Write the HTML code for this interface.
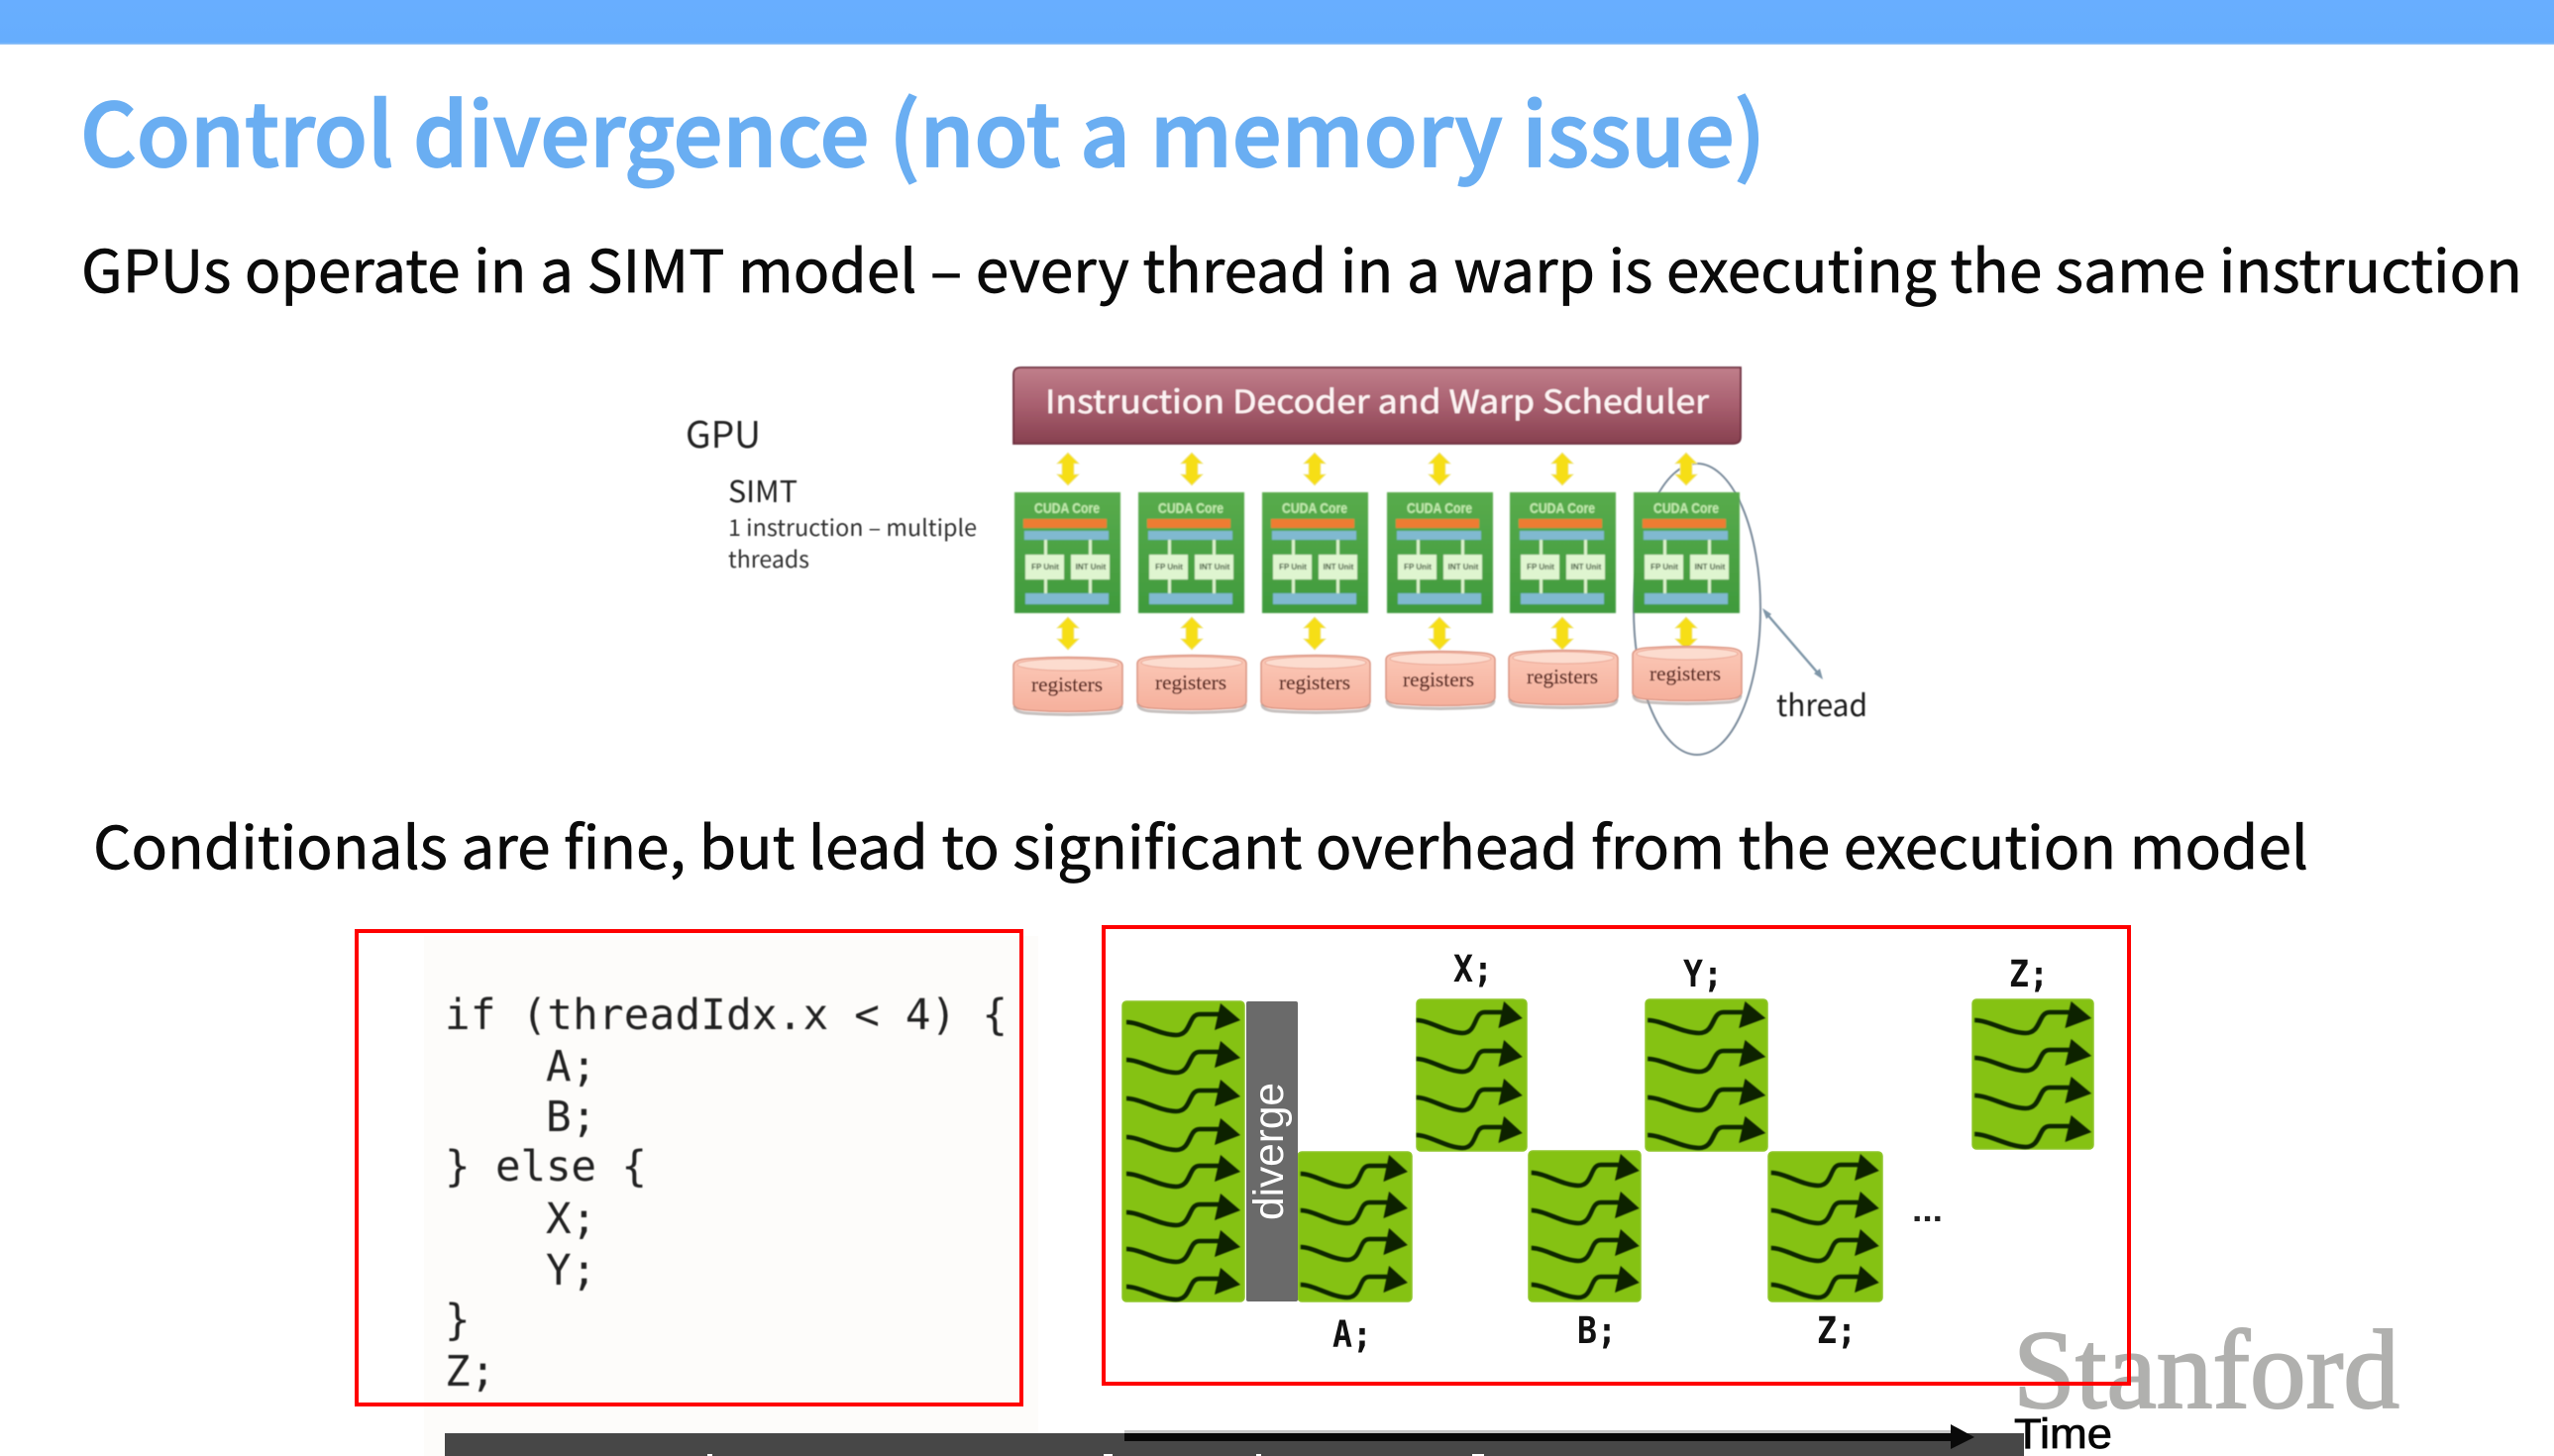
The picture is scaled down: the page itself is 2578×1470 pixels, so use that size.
<!DOCTYPE html>
<html><head><meta charset="utf-8"><style>
html,body{margin:0;padding:0;background:#fff;width:2578px;height:1470px;overflow:hidden}
svg{display:block}
.n{font-family:"Noto Sans CJK JP","Liberation Sans",sans-serif}
.m{font-family:"DejaVu Sans Mono","Liberation Mono",monospace}
.s{font-family:"Liberation Sans",sans-serif}
.r{font-family:"Liberation Serif",serif}
.cu{font-family:"Liberation Sans",sans-serif;font-size:15px;font-weight:bold;fill:#c9efb4;text-anchor:middle}
.t1{font-family:"Liberation Sans",sans-serif;font-size:8px;font-weight:bold;text-anchor:middle}
.reg{font-family:"Liberation Serif",serif;font-size:21px;fill:#5e2c24;stroke:#5e2c24;stroke-width:.3;text-anchor:middle}
</style></head><body>
<svg xmlns="http://www.w3.org/2000/svg" width="2578" height="1470" viewBox="0 0 2578 1470">
<defs>
<linearGradient id="hd" x1="0" y1="0" x2="0" y2="1"><stop offset="0" stop-color="#c07f8b"/><stop offset=".5" stop-color="#a85f6f"/><stop offset="1" stop-color="#87404f"/></linearGradient>
<linearGradient id="cg" x1="0" y1="0" x2="0" y2="1"><stop offset="0" stop-color="#58ab4c"/><stop offset="1" stop-color="#3f9a3c"/></linearGradient>
<linearGradient id="rg" x1="0" y1="0" x2="0" y2="1"><stop offset="0" stop-color="#fbc9b8"/><stop offset="1" stop-color="#f6b09c"/></linearGradient>
<linearGradient id="bar" x1="0" y1="0" x2="0" y2="1"><stop offset="0" stop-color="#68aeff"/><stop offset=".95" stop-color="#66adfd"/><stop offset="1" stop-color="#9cc7f5"/></linearGradient>
<filter id="b1" x="-5%" y="-5%" width="110%" height="110%"><feGaussianBlur stdDeviation="0.9"/></filter>
<filter id="b2" x="-5%" y="-5%" width="110%" height="110%"><feGaussianBlur stdDeviation="0.6"/></filter>
<g id="ya"><polygon points="0,0 11,11 6,11 6,22 11,22 0,33 -11,22 -6,22 -6,11 -11,11" fill="#f6de12" stroke="#f0e890" stroke-width=".8"/></g>
<g id="core">
<rect x="0" y="0" width="107" height="122" fill="url(#cg)"/>
<rect x="9" y="27" width="84" height="9" fill="#ee7c32"/>
<rect x="10" y="39" width="85" height="9" fill="#80b9d0"/>
<rect x="30" y="48" width="3" height="15" fill="#dcf3cc"/>
<rect x="75" y="48" width="3" height="15" fill="#dcf3cc"/>
<rect x="30" y="88" width="3" height="14" fill="#dcf3cc"/>
<rect x="75" y="88" width="3" height="14" fill="#dcf3cc"/>
<rect x="11" y="63" width="39" height="25" fill="#dff5d0"/>
<rect x="57" y="63" width="39" height="25" fill="#dff5d0"/>
<rect x="11" y="102" width="84" height="11" fill="#80b9d0"/>
</g>
<g id="cyl">
<path d="M0 8Q0 2 14 1Q55 -2 96 1Q110 2 110 8V46Q110 52 96 53Q55 56 14 53Q0 52 0 46Z" fill="url(#rg)" stroke="#dd9a88" stroke-width="1.6"/>
<ellipse cx="55" cy="7" rx="51" ry="6" fill="#fcdccf" stroke="#eaa795" stroke-width="1"/>
<path d="M1 49Q1 55 14 56Q55 59 96 56Q109 55 109 49" fill="none" stroke="#a8a09c" stroke-width="3" opacity=".65"/>
</g>
<g id="w">
<path d="M4 2C18 2 38 15 54 15C70 15 66 -6 78 -6L97 -6" fill="none" stroke="#0c2606" stroke-width="4.6"/>
<path d="M99 -17L119 0L93 10Z" fill="#0a2005"/>
</g>
</defs>

<rect x="0" y="0" width="2578" height="45" fill="url(#bar)"/>

<text class="n" x="81" y="168" font-size="88" font-weight="500" fill="#6aaef2" stroke="#6aaef2" stroke-width="1.8" textLength="1701" lengthAdjust="spacingAndGlyphs">Control divergence (not a memory issue)</text>
<text class="n" x="82" y="295" font-size="59" fill="#0a0a0a" stroke="#0a0a0a" stroke-width=".7" textLength="2464" lengthAdjust="spacingAndGlyphs">GPUs operate in a SIMT model – every thread in a warp is executing the same instruction</text>

<!-- GPU diagram -->
<g filter="url(#b2)">
<text class="n" x="692" y="452" font-size="37" fill="#222" textLength="76" lengthAdjust="spacingAndGlyphs">GPU</text>
<text class="n" x="735" y="507" font-size="30" fill="#222" textLength="70" lengthAdjust="spacingAndGlyphs">SIMT</text>
<text class="n" x="735" y="541" font-size="23" fill="#333" textLength="251" lengthAdjust="spacingAndGlyphs">1 instruction – multiple</text>
<text class="n" x="735" y="573" font-size="23" fill="#333" textLength="82" lengthAdjust="spacingAndGlyphs">threads</text>

<path d="M1023 378Q1023 371 1031 371H1757V441Q1757 448 1749 448H1023Z" fill="url(#hd)" stroke="#6f3040" stroke-width="1.8"/>
<text class="n" x="1055" y="417" font-size="32" fill="#fdf3f3" stroke="#fdf3f3" stroke-width=".4" textLength="670" lengthAdjust="spacingAndGlyphs">Instruction Decoder and Warp Scheduler</text>

<ellipse cx="1713" cy="615" rx="64" ry="147" fill="none" stroke="#7d8d9d" stroke-width="2"/>

<use href="#ya" x="1078" y="457"/><use href="#ya" x="1203" y="457"/><use href="#ya" x="1327" y="457"/><use href="#ya" x="1453" y="457"/><use href="#ya" x="1577" y="457"/><use href="#ya" x="1702" y="457"/>
<use href="#ya" x="1078" y="623"/><use href="#ya" x="1203" y="623"/><use href="#ya" x="1327" y="623"/><use href="#ya" x="1453" y="623"/><use href="#ya" x="1577" y="623"/><use href="#ya" x="1702" y="623"/>
</g>

<g filter="url(#b1)">
<use href="#core" x="1024" y="497"/><use href="#core" x="1149" y="497"/><use href="#core" x="1274" y="497"/><use href="#core" x="1400" y="497"/><use href="#core" x="1524" y="497"/><use href="#core" x="1649" y="497"/>

<text class="cu" x="1077" y="518" textLength="66" lengthAdjust="spacingAndGlyphs">CUDA Core</text>
<text class="cu" x="1202" y="518" textLength="66" lengthAdjust="spacingAndGlyphs">CUDA Core</text>
<text class="cu" x="1327" y="518" textLength="66" lengthAdjust="spacingAndGlyphs">CUDA Core</text>
<text class="cu" x="1453" y="518" textLength="66" lengthAdjust="spacingAndGlyphs">CUDA Core</text>
<text class="cu" x="1577" y="518" textLength="66" lengthAdjust="spacingAndGlyphs">CUDA Core</text>
<text class="cu" x="1702" y="518" textLength="66" lengthAdjust="spacingAndGlyphs">CUDA Core</text>

<g fill="#1f3a1c">
<text class="t1" x="1055" y="575">FP Unit</text><text class="t1" x="1101" y="575">INT Unit</text>
<text class="t1" x="1180" y="575">FP Unit</text><text class="t1" x="1226" y="575">INT Unit</text>
<text class="t1" x="1305" y="575">FP Unit</text><text class="t1" x="1351" y="575">INT Unit</text>
<text class="t1" x="1431" y="575">FP Unit</text><text class="t1" x="1477" y="575">INT Unit</text>
<text class="t1" x="1555" y="575">FP Unit</text><text class="t1" x="1601" y="575">INT Unit</text>
<text class="t1" x="1680" y="575">FP Unit</text><text class="t1" x="1726" y="575">INT Unit</text>
</g>
</g>

<g filter="url(#b2)">
<use href="#cyl" x="1023" y="664"/><use href="#cyl" x="1148" y="662"/><use href="#cyl" x="1273" y="662"/><use href="#cyl" x="1399" y="658"/><use href="#cyl" x="1523" y="657"/><use href="#cyl" x="1648" y="653"/>

<text class="reg" x="1077" y="698" textLength="72" lengthAdjust="spacingAndGlyphs">registers</text>
<text class="reg" x="1202" y="696" textLength="72" lengthAdjust="spacingAndGlyphs">registers</text>
<text class="reg" x="1327" y="696" textLength="72" lengthAdjust="spacingAndGlyphs">registers</text>
<text class="reg" x="1452" y="693" textLength="72" lengthAdjust="spacingAndGlyphs">registers</text>
<text class="reg" x="1577" y="690" textLength="72" lengthAdjust="spacingAndGlyphs">registers</text>
<text class="reg" x="1701" y="687" textLength="72" lengthAdjust="spacingAndGlyphs">registers</text>

<path d="M1781 617L1838 683" stroke="#7f96a8" stroke-width="2.4" fill="none"/>
<path d="M1779 614L1788 620L1783 625Z" fill="#7f96a8"/>
<path d="M1840 686L1831 680L1837 675Z" fill="#7f96a8"/>
<text class="n" x="1793" y="723" font-size="30" fill="#1c1c1c" textLength="92" lengthAdjust="spacingAndGlyphs">thread</text>
</g>

<text class="n" x="94" y="877" font-size="59" fill="#0a0a0a" stroke="#0a0a0a" stroke-width=".7" textLength="2236" lengthAdjust="spacingAndGlyphs">Conditionals are fine, but lead to significant overhead from the execution model</text>

<!-- Code block -->
<rect x="428" y="945" width="620" height="525" fill="#fdfcfa"/>
<g class="m" font-size="42.5" fill="#222" filter="url(#b2)">
<text x="449" y="1039" textLength="568" lengthAdjust="spacing">if (threadIdx.x &lt; 4) {</text>
<text x="551" y="1091">A;</text>
<text x="551" y="1142">B;</text>
<text x="449" y="1192" textLength="204" lengthAdjust="spacing">} else {</text>
<text x="551" y="1245">X;</text>
<text x="551" y="1297">Y;</text>
<text x="449" y="1347">}</text>
<text x="449" y="1399">Z;</text>
</g>

<!-- Stanford goes beneath red box -->
<text class="r" x="2032" y="1421" font-size="113" fill="#b0b0ae" stroke="#b0b0ae" stroke-width="2" textLength="390" lengthAdjust="spacingAndGlyphs">Stanford</text>

<rect x="360" y="940" width="671" height="478" fill="none" stroke="#ff0000" stroke-width="4"/>
<rect x="1114" y="936" width="1035" height="461" fill="none" stroke="#ff0000" stroke-width="4"/>

<!-- Green blocks -->
<g fill="#85c213" stroke="#8fc62a" stroke-width="1.5">
<rect x="1133" y="1011" width="123" height="303" rx="4"/>
<rect x="1310" y="1163" width="115" height="151" rx="4"/>
<rect x="1430" y="1009" width="111" height="153" rx="4"/>
<rect x="1661" y="1009" width="123" height="153" rx="4"/>
<rect x="1991" y="1009" width="122" height="151" rx="4"/>
<rect x="1543" y="1162" width="113" height="152" rx="4"/>
<rect x="1785" y="1163" width="115" height="151" rx="4"/>
</g>
<rect x="1258" y="1011" width="52" height="303" rx="2" fill="#6a6a6a"/>
<text class="s" x="0" y="0" font-size="43" fill="#fff" textLength="139" lengthAdjust="spacingAndGlyphs" transform="translate(1295 1232) rotate(-90)">diverge</text>

<g filter="url(#b2)">
<g transform="translate(1133 0)"><use href="#w" y="1030"/><use href="#w" y="1068"/><use href="#w" y="1107"/><use href="#w" y="1146"/><use href="#w" y="1183"/><use href="#w" y="1222"/><use href="#w" y="1259"/><use href="#w" y="1297"/></g>
<g transform="translate(1309 0) scale(.94 1)"><use href="#w" y="1183"/><use href="#w" y="1220"/><use href="#w" y="1257"/><use href="#w" y="1295"/></g>
<g transform="translate(1426 0) scale(.93 1)"><use href="#w" y="1028"/><use href="#w" y="1067"/><use href="#w" y="1106"/><use href="#w" y="1144"/></g>
<g transform="translate(1659 0) scale(1.035 1)"><use href="#w" y="1028"/><use href="#w" y="1067"/><use href="#w" y="1106"/><use href="#w" y="1144"/></g>
<g transform="translate(1989 0) scale(1.026 1)"><use href="#w" y="1028"/><use href="#w" y="1066"/><use href="#w" y="1104"/><use href="#w" y="1143"/></g>
<g transform="translate(1542 0) scale(.947 1)"><use href="#w" y="1182"/><use href="#w" y="1220"/><use href="#w" y="1258"/><use href="#w" y="1295"/></g>
<g transform="translate(1784 0) scale(.947 1)"><use href="#w" y="1182"/><use href="#w" y="1220"/><use href="#w" y="1258"/><use href="#w" y="1295"/></g>
</g>

<g class="m" font-size="37" font-weight="bold" fill="#111">
<text x="1467" y="991" textLength="40" lengthAdjust="spacingAndGlyphs">X;</text>
<text x="1699" y="996" textLength="40" lengthAdjust="spacingAndGlyphs">Y;</text>
<text x="2028" y="996" textLength="40" lengthAdjust="spacingAndGlyphs">Z;</text>
<text x="1345" y="1360" textLength="40" lengthAdjust="spacingAndGlyphs">A;</text>
<text x="1592" y="1356" textLength="40" lengthAdjust="spacingAndGlyphs">B;</text>
<text x="1834" y="1356" textLength="40" lengthAdjust="spacingAndGlyphs">Z;</text>
</g>
<text class="s" x="1930" y="1233" font-size="34" font-weight="bold" fill="#222" textLength="31" lengthAdjust="spacingAndGlyphs">...</text>

<!-- Bottom bar, time arrow -->
<rect x="449" y="1447" width="1594" height="23" fill="#474747"/>
<rect x="1135" y="1444" width="835" height="3" fill="#c8c8c8"/>
<rect x="1135" y="1447" width="836" height="8" fill="#0a0a0a"/>
<polygon points="1969,1438 1993,1451 1969,1463" fill="#0a0a0a"/>
<text class="s" x="2033" y="1462" font-size="43" fill="#050505" stroke="#050505" stroke-width=".8" textLength="99" lengthAdjust="spacingAndGlyphs">Time</text>
<g fill="#fff"><rect x="714" y="1468" width="5" height="2"/><rect x="1268" y="1468" width="5" height="2"/><rect x="1486" y="1468" width="12" height="2"/><rect x="1114" y="1468" width="9" height="2"/></g>
</svg>
</body></html>
